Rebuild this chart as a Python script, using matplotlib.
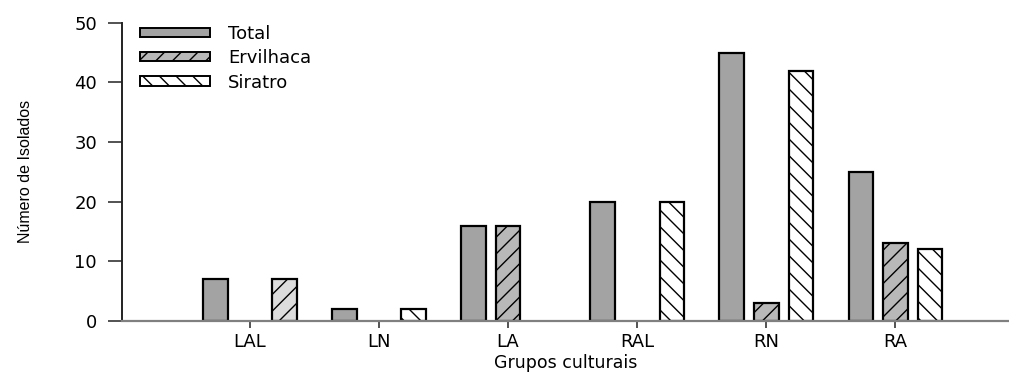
import matplotlib
matplotlib.use("Agg")
import matplotlib.pyplot as plt
from matplotlib.patches import Patch
import numpy as np

categories = ["LAL", "LN", "LA", "RAL", "RN", "RA"]
total = [7, 2, 16, 20, 45, 25]
ervilhaca = [0, 0, 16, 0, 3, 13]
siratro = [7, 2, 0, 20, 42, 12]

plt.rcParams['font.family'] = ['DejaVu Sans']
plt.rcParams['hatch.linewidth'] = 1.0

fig = plt.figure(figsize=(10.09, 3.74), dpi=100)
ax = fig.add_axes([0.121, 0.142, 0.879, 0.797])

x = np.arange(len(categories))
w = 0.19
off = 0.268

c_total = "#a3a3a3"
c_erv = "#b8b8b8"
c_sir = "white"

b1 = ax.bar(x - off, total, w, color=c_total, edgecolor="black", linewidth=1.6)
b2 = ax.bar(x, ervilhaca, w, color=c_erv, edgecolor="black", linewidth=1.6, hatch="//")
b3 = ax.bar(x + off, siratro, w, color=c_sir, edgecolor="black", linewidth=1.6, hatch="\\\\")
# LAL siratro bar drawn in the original with light-gray fill and forward hatch
b3[0].set_facecolor("#dcdcdc")
b3[0].set_hatch("//")
for bars, vals in ((b2, ervilhaca), (b3, siratro)):
    for bar, v in zip(bars, vals):
        if v == 0:
            bar.set_visible(False)

ax.set_xlim(-0.99, 5.88)
ax.set_ylim(0, 50)
ax.set_yticks([0, 10, 20, 30, 40, 50])
ax.set_xticks(x)
ax.set_xticklabels(categories)

for s in ("top", "right"):
    ax.spines[s].set_visible(False)
ax.spines["left"].set_color("#222222")
ax.spines["left"].set_linewidth(1.4)
ax.spines["bottom"].set_color("#808080")
ax.spines["bottom"].set_linewidth(1.6)

ax.tick_params(axis="y", length=10, width=1.3, color="#444444", labelsize=13, pad=8)
ax.tick_params(axis="x", length=5, width=1.3, color="#444444", labelsize=13, pad=4)

ax.set_xlabel("Grupos culturais", fontsize=12.5)
ax.xaxis.set_label_coords(0.5, -0.112)
ax.set_ylabel("Número de Isolados", fontsize=11.5,
              family=["Liberation Sans", "DejaVu Sans"])
ax.yaxis.set_label_coords(-0.1, 0.5)

handles = [
    Patch(facecolor=c_total, edgecolor="black", linewidth=1.4),
    Patch(facecolor=c_erv, edgecolor="black", linewidth=1.4, hatch="//"),
    Patch(facecolor=c_sir, edgecolor="black", linewidth=1.4, hatch="\\\\"),
]
leg = ax.legend(handles, ["Total", "Ervilhaca", "Siratro"],
                loc="upper left", bbox_to_anchor=(0.02, 0.993), frameon=False,
                handlelength=3.9, handleheight=0.42, fontsize=13,
                labelspacing=0.35, handletextpad=1.0, borderaxespad=0.0, borderpad=0.0)

fig.savefig("out.png", dpi=100)
